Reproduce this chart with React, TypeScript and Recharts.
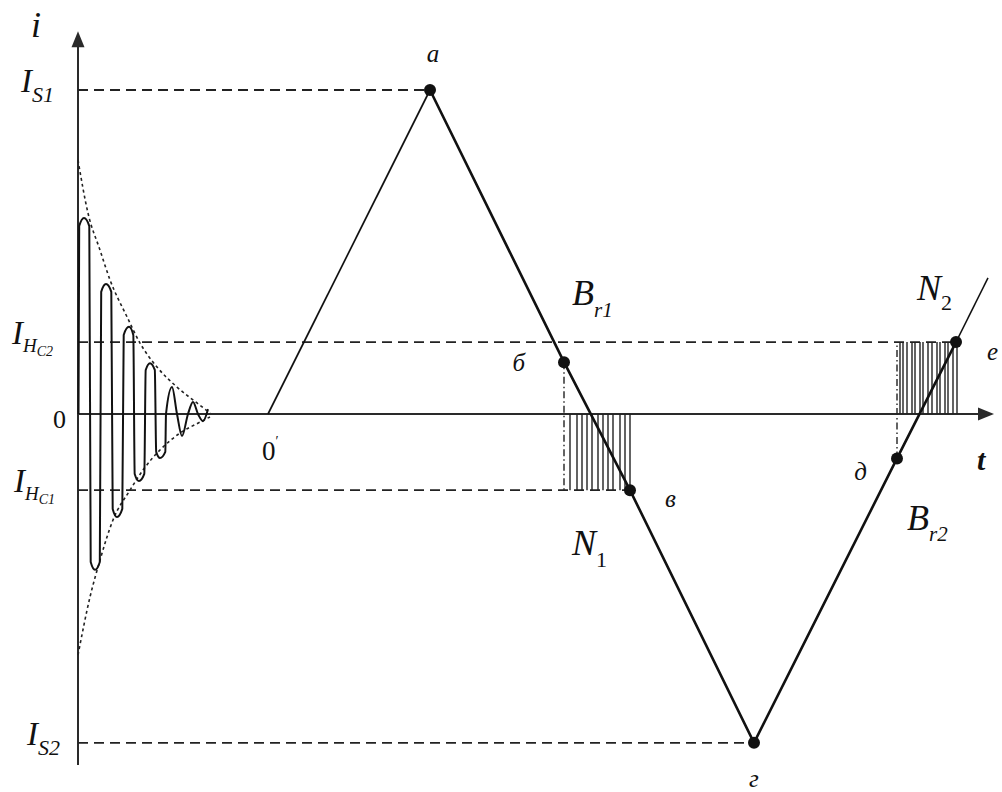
import React from 'react';
import { ComposedChart, Line, XAxis, YAxis, ReferenceLine, ReferenceDot } from 'recharts';

const FONT = 'Liberation Serif, Times New Roman, serif';
const INK = '#111111';
const AXIS = '#2a2a2a';
const DASH = '#222222';
const TS: React.CSSProperties = { fontFamily: FONT };

// current levels
const I_S1 = 1.0;
const I_HC2 = 0.222;
const I_HC1 = -0.235;
const I_S2 = -1.015;

// y-axis ticks
const yTickValues = [I_S2, I_HC1, 0, I_HC2, I_S1];
const yTickMain = ['I', 'I', '0', 'I', 'I'];
const yTickSub = ['S2', 'H', '', 'H', 'S1'];
const yTickSubSub = ['', 'C1', '', 'C2', ''];

// hysteresis path
const rampT = [1.9, 3.52];
const rampI = [0, I_S1];
const mainT = [3.52, 4.86, 5.52, 6.76, 8.19, 8.78];
const mainI = [I_S1, 0.16, I_HC1, I_S2, -0.137, I_HC2];
const tailT = [8.78, 9.1];
const tailI = [I_HC2, 0.42];

// marked points
const pointNames = ['а', 'б', 'в', 'г', 'д', 'е'];
const pointT = [3.52, 4.86, 5.52, 6.76, 8.19, 8.78];
const pointI = [I_S1, 0.16, I_HC1, I_S2, -0.137, I_HC2];

// damped oscillation (cap edges, extremes and crossings)
const oscT = [
  0.005, 0.012, 0.06, 0.113,
  0.127, 0.17, 0.218,
  0.232, 0.28, 0.333,
  0.347, 0.39, 0.443,
  0.457, 0.51, 0.553,
  0.567, 0.61, 0.663,
  0.677, 0.72, 0.768,
  0.782, 0.82, 0.873,
  0.88, 0.94, 0.99, 1.04, 1.1, 1.15, 1.2, 1.25, 1.3,
];
const oscI = [
  0, 0.58, 0.605, 0.58,
  -0.457, -0.481, -0.457,
  0.377, 0.401, 0.377,
  -0.293, -0.318, -0.293,
  0.244, 0.269, 0.244,
  -0.185, -0.207, -0.185,
  0.136, 0.157, 0.136,
  -0.117, -0.136, -0.117,
  0, 0.083, 0, -0.068, 0, 0.037, 0, -0.022, 0.015,
];
const envUpT = [0, 0.1, 0.22, 0.32, 0.49, 0.62, 0.79, 0.99, 1.19, 1.32];
const envUpI = [0.784, 0.62, 0.506, 0.414, 0.3, 0.219, 0.145, 0.083, 0.034, 0.003];
const envLoT = [0, 0.12, 0.22, 0.35, 0.52, 0.65, 0.82, 1.02, 1.22, 1.32];
const envLoI = [-0.744, -0.565, -0.451, -0.327, -0.235, -0.173, -0.111, -0.059, -0.025, -0.009];

// dashed level lines: level and the t where they end
const dashLevels = [I_S1, I_HC2, I_HC1, I_S2];
const dashEndT = [3.52, 8.78, 5.52, 6.76];

// dash-dot drops
const dropT = [4.86, 8.19];
const dropFromI = [0.16, -0.137];
const dropToI = [I_HC1, I_HC2];

// hatching
const hatch1T = [4.92, 4.99, 5.04, 5.09, 5.14, 5.2, 5.25, 5.3, 5.35, 5.42, 5.47, 5.52];
const hatch1I = I_HC1;
const hatch2T = [8.22, 8.25, 8.29, 8.34, 8.37, 8.42, 8.45, 8.5, 8.54, 8.59, 8.62, 8.67, 8.7, 8.75, 8.79];
const hatch2I = I_HC2;

// free labels
const freeMain = ['B', 'N', 'N', 'B', '0', 'i', 't'];
const freeSub = ['r1', '1', '2', 'r2', '′', '', ''];
const freeT = [4.94, 4.94, 8.39, 8.29, 1.84, -0.47, 8.99];
const freeI = [0.336, -0.435, 0.352, -0.358, -0.142, 1.164, -0.173];

// styles
const pointLabelStyle = [
  { dx: 3, dy: -28, anchor: 'middle' },
  { dx: -39, dy: 9, anchor: 'end' },
  { dx: 35, dy: 17, anchor: 'start' },
  { dx: 0, dy: 44, anchor: 'middle' },
  { dx: -30, dy: 22, anchor: 'end' },
  { dx: 31, dy: 18, anchor: 'start' },
];
const yTickStartX = [27, 14, 0, 12, 21];
const freeStyle = [
  { size: 36, italic: true, bold: false, subSize: 21, subDy: 12 },
  { size: 36, italic: true, bold: false, subSize: 22, subDy: 12 },
  { size: 36, italic: true, bold: false, subSize: 22, subDy: 10 },
  { size: 36, italic: true, bold: false, subSize: 21, subDy: 11 },
  { size: 27, italic: false, bold: false, subSize: 14, subDy: -14 },
  { size: 36, italic: true, bold: false, subSize: 14, subDy: 0 },
  { size: 30, italic: true, bold: true, subSize: 14, subDy: 0 },
];

const mk = (ts: number[], is: number[]) => ts.map((t, k) => ({ t, i: is[k] }));

const arrowShape = (p: any) => {
  const { x1, y1, x2, y2 } = p;
  const dx = x2 - x1;
  const dy = y2 - y1;
  const len = Math.sqrt(dx * dx + dy * dy) || 1;
  const ux = dx / len;
  const uy = dy / len;
  const L = 16;
  const W = 6.5;
  const bx = x2 - ux * L;
  const by = y2 - uy * L;
  const pts = `${x2},${y2} ${bx - uy * W},${by + ux * W} ${bx + uy * W},${by - ux * W}`;
  return (
    <g>
      <line x1={x1} y1={y1} x2={x2 - ux * 6} y2={y2 - uy * 6} stroke={AXIS} strokeWidth={2} />
      <polygon points={pts} fill={AXIS} />
    </g>
  );
};

const YTick = (props: any) => {
  const { y, payload } = props;
  const idx = yTickValues.findIndex((v) => Math.abs(v - payload.value) < 1e-9);
  if (idx < 0) return null;
  const main = yTickMain[idx];
  if (main === '0') {
    return (
      <text x={66} y={y + 14} textAnchor="end" style={TS} fontSize={26} fill={INK}>
        0
      </text>
    );
  }
  const sub = yTickSub[idx];
  const subsub = yTickSubSub[idx];
  const x0 = yTickStartX[idx];
  if (subsub) {
    return (
      <text x={x0} y={y + 2} style={TS} fill={INK}>
        <tspan fontSize={33} fontStyle="italic">{main}</tspan>
        <tspan fontSize={19} fontStyle="italic" dy={8}>{sub}</tspan>
        <tspan fontSize={14} fontStyle="italic" dy={4}>{subsub}</tspan>
      </text>
    );
  }
  return (
    <text x={x0} y={y + 2} style={TS} fill={INK}>
      <tspan fontSize={33} fontStyle="italic">{main}</tspan>
      <tspan fontSize={22} fontStyle="italic" dy={10}>{sub}</tspan>
    </text>
  );
};

const renderPointDot = (p: any) => {
  const { cx, cy, index } = p;
  const s = pointLabelStyle[index];
  return (
    <g key={`pd${index}`}>
      <circle cx={cx} cy={cy} r={6} fill={INK} />
      <text
        x={cx + s.dx}
        y={cy + s.dy}
        textAnchor={s.anchor as any}
        style={TS}
        fontStyle="italic"
        fontSize={25}
        fill={INK}
      >
        {pointNames[index]}
      </text>
    </g>
  );
};

const makeFreeLabel = (k: number) => (p: any) => {
  const { cx, cy } = p;
  const s = freeStyle[k];
  return (
    <text x={cx} y={cy} style={TS} fill={INK}>
      <tspan fontSize={s.size} fontStyle={s.italic ? 'italic' : 'normal'} fontWeight={s.bold ? 'bold' : 'normal'}>
        {freeMain[k]}
      </tspan>
      {freeSub[k] ? (
        <tspan fontSize={s.subSize} fontStyle={k === 4 || k === 1 || k === 2 ? 'normal' : 'italic'} dy={s.subDy}>
          {freeSub[k]}
        </tspan>
      ) : null}
    </text>
  );
};

export default function App() {
  return (
    <div style={{ position: 'absolute', left: 0, top: 0, width: 1002, height: 792, background: '#fff', fontFamily: FONT }}>
      <ComposedChart width={1002} height={792} margin={{ top: 25.2, right: 4, bottom: 21.6, left: 0 }} style={TS}>
        <XAxis type="number" dataKey="t" domain={[0, 9.2]} hide />
        <YAxis
          type="number"
          domain={[-1.1, 1.2]}
          width={78}
          ticks={yTickValues}
          interval={0}
          axisLine={false}
          tickLine={false}
          tickSize={0}
          tickMargin={0}
          tick={<YTick />}
        />

        {/* axes */}
        <ReferenceLine segment={[{ x: 0, y: 0 }, { x: 9.16, y: 0 }]} ifOverflow="visible" shape={arrowShape} />
        <ReferenceLine segment={[{ x: 0, y: -1.083 }, { x: 0, y: 1.181 }]} ifOverflow="visible" shape={arrowShape} />

        {/* dashed levels */}
        {dashLevels.map((lv, k) => (
          <ReferenceLine
            key={`dl${k}`}
            segment={[{ x: 0, y: lv }, { x: dashEndT[k], y: lv }]}
            stroke={DASH}
            strokeWidth={1.8}
            strokeDasharray="10 6"
            ifOverflow="visible"
          />
        ))}

        {/* dash-dot drops */}
        {dropT.map((t, k) => (
          <ReferenceLine
            key={`dd${k}`}
            segment={[{ x: t, y: dropFromI[k] }, { x: t, y: dropToI[k] }]}
            stroke={DASH}
            strokeWidth={1.4}
            strokeDasharray="7 3 1.5 3"
            ifOverflow="visible"
          />
        ))}

        {/* hatching */}
        {hatch1T.map((t, k) => (
          <ReferenceLine key={`h1${k}`} segment={[{ x: t, y: 0 }, { x: t, y: hatch1I }]} stroke={DASH} strokeWidth={1.4} ifOverflow="visible" />
        ))}
        {hatch2T.map((t, k) => (
          <ReferenceLine key={`h2${k}`} segment={[{ x: t, y: 0 }, { x: t, y: hatch2I }]} stroke={DASH} strokeWidth={1.4} ifOverflow="visible" />
        ))}

        {/* damped oscillation and envelopes */}
        <Line data={mk(envUpT, envUpI)} dataKey="i" type="monotone" stroke={DASH} strokeWidth={1.6} strokeDasharray="3 3" dot={false} isAnimationActive={false} />
        <Line data={mk(envLoT, envLoI)} dataKey="i" type="monotone" stroke={DASH} strokeWidth={1.6} strokeDasharray="3 3" dot={false} isAnimationActive={false} />
        <Line data={mk(oscT, oscI)} dataKey="i" type="monotone" stroke={INK} strokeWidth={2} dot={false} isAnimationActive={false} />

        {/* path */}
        <Line data={mk(rampT, rampI)} dataKey="i" type="linear" stroke={INK} strokeWidth={1.7} dot={false} isAnimationActive={false} />
        <Line data={mk(mainT, mainI)} dataKey="i" type="linear" stroke={INK} strokeWidth={2.6} dot={false} isAnimationActive={false} />
        <Line data={mk(tailT, tailI)} dataKey="i" type="linear" stroke={INK} strokeWidth={1.5} dot={false} isAnimationActive={false} />
        <Line data={mk(pointT, pointI)} dataKey="i" type="linear" stroke="none" strokeWidth={0} dot={renderPointDot} isAnimationActive={false} />

        {/* free labels */}
        {freeMain.map((m, k) => (
          <ReferenceDot key={`fl${k}`} x={freeT[k]} y={freeI[k]} r={0} ifOverflow="visible" shape={makeFreeLabel(k)} />
        ))}
      </ComposedChart>
    </div>
  );
}
